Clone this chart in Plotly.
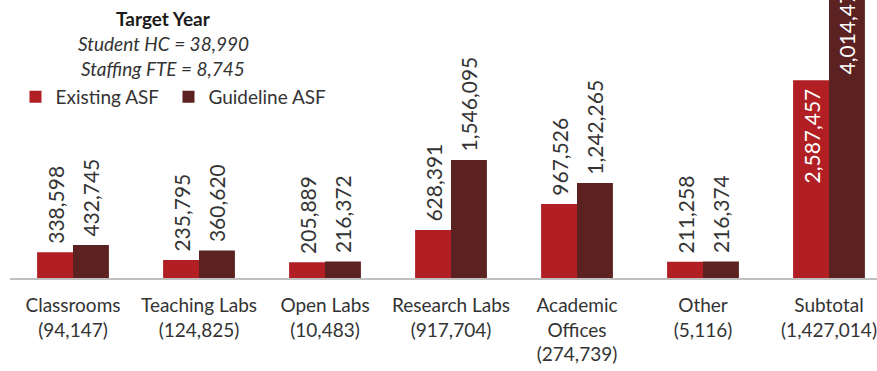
import plotly.graph_objects as go

# Space categories with their current ASF (shown in parentheses under each label)
categories = ["Classrooms", "Teaching Labs", "Open Labs", "Research Labs",
              "Academic<br>Offices", "Other", "Subtotal"]
current_asf = ["94,147", "124,825", "10,483", "917,704", "274,739", "5,116", "1,427,014"]

existing_asf = [338598, 235795, 205889, 628391, 967526, 211258, 2587457]
guideline_asf = [432745, 360620, 216372, 1546095, 1242265, 216374, 4014471]

tick_labels = [f"{c}<br>({n})" for c, n in zip(categories, current_asf)]

RED = "#B11F24"
MAROON = "#5C2121"
LABEL = "#333333"
FONT = "Lato, 'Open Sans', sans-serif"

# Totals are labelled inside the bar in white, everything else above the bar
positions = ["outside"] * 6 + ["inside"]

fig = go.Figure()
# a trailing non-breaking space widens the first legend entry a little
for name, vals, color in [("Existing ASF\u00a0", existing_asf, RED),
                          ("Guideline ASF", guideline_asf, MAROON)]:
    fig.add_trace(go.Bar(
        name=name,
        x=tick_labels,
        y=vals,
        marker=dict(color=color, line=dict(color=color, width=0)),
        texttemplate="\u00a0%{y:,}\u00a0",
        textposition=positions,
        textangle=-90,
        constraintext="none",
        insidetextanchor="end",
        insidetextfont=dict(color="white", size=21, family=FONT),
        outsidetextfont=dict(color=LABEL, size=21, family=FONT),
        cliponaxis=True,
        hoverinfo="skip",
    ))

PLOT_H = 278  # plot area height in px
PLOT_W = 867  # plot area width in px

fig.update_layout(
    width=877, height=371,
    margin=dict(l=10, r=0, t=0, b=93, autoexpand=False),
    paper_bgcolor="white", plot_bgcolor="white",
    font=dict(family=FONT, color=LABEL, size=19),
    barmode="group", bargap=0.43, bargroupgap=0,
    showlegend=True,
    legend=dict(
        orientation="h", x=5.5 / PLOT_W, y=1 - 97 / PLOT_H,
        xanchor="left", yanchor="middle", yref="paper",
        font=dict(size=19, color=LABEL, family=FONT),
        bgcolor="rgba(0,0,0,0)",
        traceorder="normal",
    ),
    xaxis=dict(
        range=[-0.5, 6.381], showgrid=False, zeroline=False,
        showline=True, linecolor="#BFBFBF", linewidth=2,
        ticks="", ticklabelstandoff=9,
        tickfont=dict(size=19, color=LABEL, family=FONT),
        fixedrange=True,
    ),
    yaxis=dict(range=[0, 3.639e6], visible=False, showgrid=False,
               zeroline=False, fixedrange=True),
)

# Header block above the legend
header = [
    ("<b>Target Year</b>", 18, "#1A1A1A"),
    ("<i>Student HC = 38,990</i>", 43, "#333333"),
    ("<i>Staffing FTE = 8,745</i>", 68, "#333333"),
]
for text, ypx, col in header:
    fig.add_annotation(
        text=text, xref="paper", yref="paper",
        x=(163 - 10) / PLOT_W, y=1 - ypx / PLOT_H,
        xanchor="center", yanchor="middle", showarrow=False,
        font=dict(size=19, color=col, family=FONT),
    )

fig.write_html("out.html")
